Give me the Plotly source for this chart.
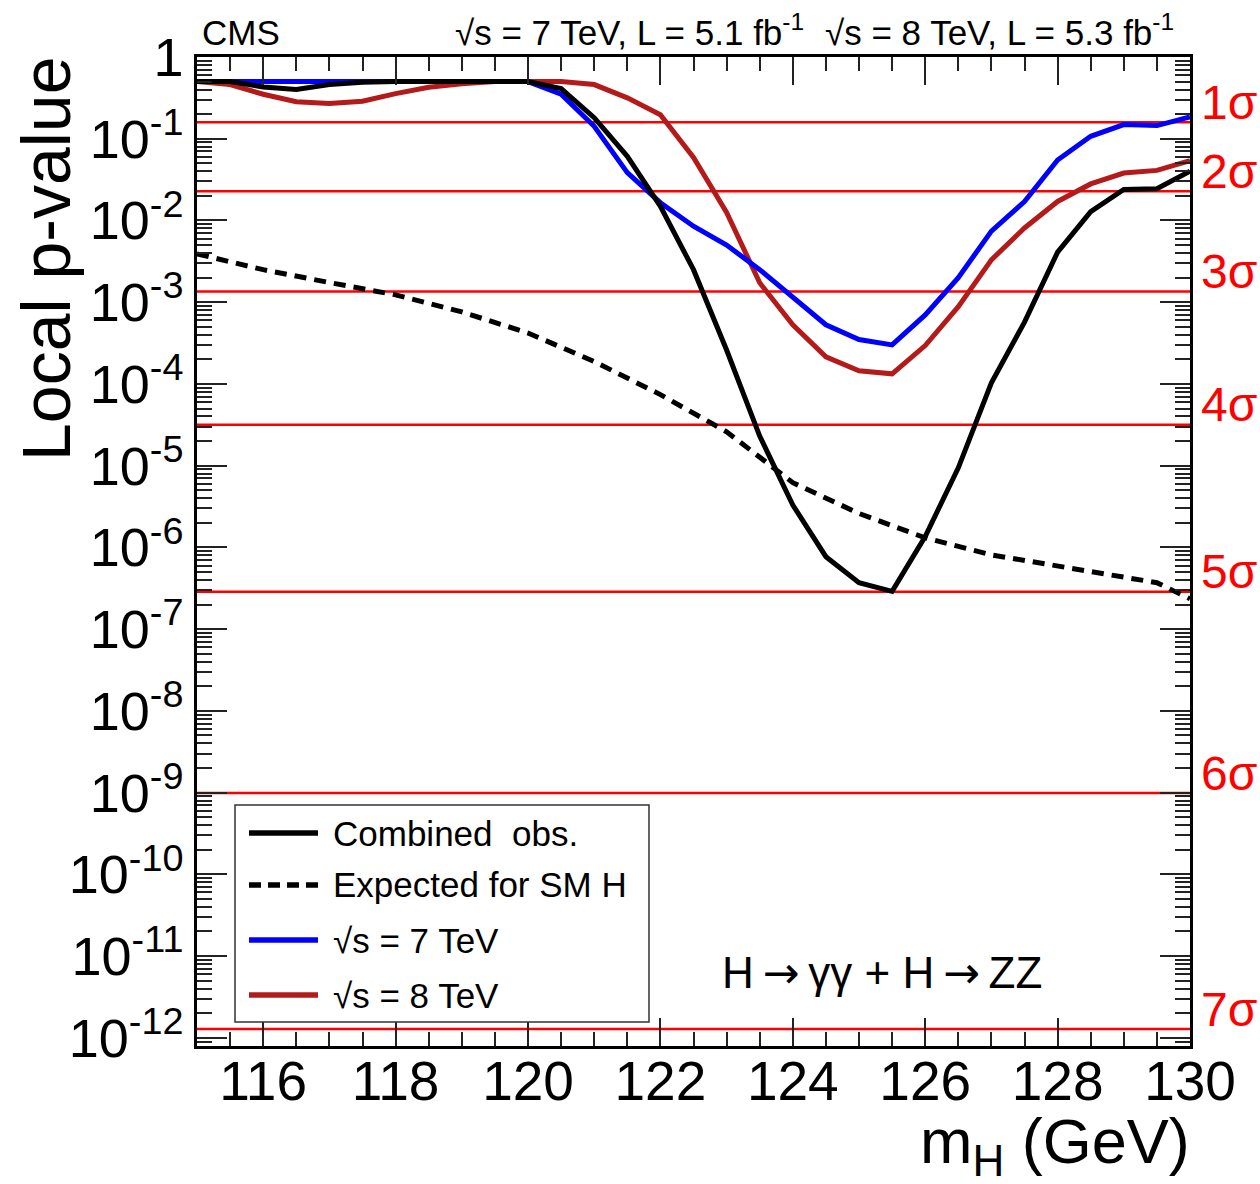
import numpy as np
import plotly.graph_objects as go

# ---------------- data ----------------
mass = [115.0, 115.5, 116.0, 116.5, 117.0, 117.5, 118.0, 118.5, 119.0, 119.5,
        120.0, 120.5, 121.0, 121.5, 122.0, 122.5, 123.0, 123.5, 124.0, 124.5,
        125.0, 125.5, 126.0, 126.5, 127.0, 127.5, 128.0, 128.5, 129.0, 129.5, 130.0]

p_combined = [0.5, 0.5, 0.43, 0.40, 0.46, 0.49, 0.5, 0.5, 0.5, 0.5,
              0.5, 0.41, 0.181, 0.061, 0.0149, 2.5e-3, 2.6e-4, 2.3e-5, 3.3e-6, 7.7e-7,
              3.7e-7, 2.9e-7, 1.36e-6, 9.4e-6, 1.03e-4, 5.7e-4, 4.1e-3, 0.0128, 0.024, 0.0245, 0.040]

p_7tev = [0.5, 0.5, 0.5, 0.5, 0.5, 0.5, 0.5, 0.5, 0.5, 0.5,
          0.5, 0.35, 0.142, 0.0385, 0.0165, 8.5e-3, 5.0e-3, 2.5e-3, 1.17e-3, 5.3e-4,
          3.5e-4, 3.0e-4, 7.0e-4, 2.0e-3, 7.4e-3, 0.017, 0.055, 0.107, 0.149, 0.145, 0.185]

p_8tev = [0.5, 0.46, 0.35, 0.284, 0.27, 0.287, 0.356, 0.426, 0.47, 0.5,
          0.5, 0.5, 0.46, 0.316, 0.197, 0.059, 0.0125, 1.73e-3, 5.3e-4, 2.15e-4,
          1.45e-4, 1.33e-4, 2.95e-4, 8.8e-4, 3.3e-3, 8.1e-3, 0.0171, 0.028, 0.038, 0.041, 0.054]

mass_exp = [115, 116, 117, 118, 119, 120, 121, 122, 123, 124, 125, 126, 127, 128, 129, 129.5, 130]
p_expected = [3.9e-3, 2.5e-3, 1.74e-3, 1.23e-3, 7.6e-4, 4.2e-4, 1.88e-4, 7.4e-5, 2.6e-5, 6.2e-6,
              2.6e-6, 1.31e-6, 8.1e-7, 6.0e-7, 4.4e-7, 3.7e-7, 2.35e-7]

sigma_p = [0.1587, 0.02275, 1.350e-3, 3.167e-5, 2.867e-7, 9.866e-10, 1.280e-12]
sigma_labels = ["1σ", "2σ", "3σ", "4σ", "5σ", "6σ", "7σ"]

x_tickvals = [116, 118, 120, 122, 124, 126, 128, 130]
x_ticktext = ["116", "118", "120", "122", "124", "126", "128", "130"]
y_exponents = list(range(0, -13, -1))
y_ticktext = ["1"] + ["10<sup>%d</sup>" % e for e in y_exponents[1:]]

legend_labels = ["Combined  obs.", "Expected for SM H", "√s = 7 TeV", "√s = 8 TeV"]

# ---------------- layout geometry ----------------
W, H = 1260, 1184
L, R, T, B = 197, 1190, 57, 1046


def px_x(px):
    return (px - L) / (R - L)


def px_y(py):
    return (B - py) / (B - T)


FONT = "Liberation Sans, Arial, Helvetica, sans-serif"
BLUE = "#0000FF"
DRED = "#B41A1A"
RED = "#FF0000"

fig = go.Figure()

# sigma lines
for p in sigma_p:
    fig.add_trace(go.Scatter(x=[mass[0], mass[-1]], y=[p, p], mode="lines",
                             line=dict(color=RED, width=2.5), showlegend=False,
                             hoverinfo="skip"))

fig.add_trace(go.Scatter(x=mass, y=p_8tev, mode="lines", name=legend_labels[3],
                         line=dict(color=DRED, width=5), showlegend=False))
fig.add_trace(go.Scatter(x=mass, y=p_7tev, mode="lines", name=legend_labels[2],
                         line=dict(color=BLUE, width=5), showlegend=False))
fig.add_trace(go.Scatter(x=mass_exp, y=p_expected, mode="lines", name=legend_labels[1],
                         line=dict(color="black", width=5, dash="12px,8px"), showlegend=False))
fig.add_trace(go.Scatter(x=mass, y=p_combined, mode="lines", name=legend_labels[0],
                         line=dict(color="black", width=5), showlegend=False))

# minor ticks
y_minor = []
for e in range(-13, 1):
    for k in range(2, 10):
        v = k * 10.0 ** e
        if 10 ** -12.1 <= v <= 1:
            y_minor.append(v)
x_minor = [115 + 0.5 * i for i in range(31)]

fig.update_xaxes(
    range=[115, 130], showgrid=False, zeroline=False,
    showline=True, linecolor="black", linewidth=2.5, mirror="allticks",
    ticks="inside", ticklen=28, tickwidth=1.5, tickcolor="#222",
    tickmode="array", tickvals=x_tickvals, ticktext=x_ticktext,
    tickfont=dict(family=FONT, size=55, color="black"),
    ticklabelstandoff=-15,
    minor=dict(tickmode="array", tickvals=x_minor, ticks="inside", ticklen=14,
               tickwidth=1.5, tickcolor="#222", showgrid=False),
    automargin=False,
)
fig.update_yaxes(
    type="log", range=[-12.1, 0], showgrid=False, zeroline=False,
    showline=True, linecolor="black", linewidth=2.5, mirror="allticks",
    ticks="inside", ticklen=30, tickwidth=1.5, tickcolor="#222",
    tickmode="array", tickvals=[10.0 ** e for e in y_exponents], ticktext=y_ticktext,
    tickfont=dict(family=FONT, size=54, color="black"),
    minor=dict(tickmode="array", tickvals=y_minor, ticks="inside", ticklen=15,
               tickwidth=1.5, tickcolor="#222", showgrid=False),
    automargin=False,
)

ann = []
# sigma labels
for p, lab in zip(sigma_p, sigma_labels):
    ann.append(dict(x=px_x(1199), xref="paper", y=np.log10(p), yref="y", text=lab,
                    showarrow=False, xanchor="left", yanchor="middle", yshift=20,
                    font=dict(family=FONT, size=48, color=RED)))

# header texts
ann.append(dict(x=px_x(200), y=px_y(32), xref="paper", yref="paper", text="CMS",
                showarrow=False, xanchor="left", yanchor="middle",
                font=dict(family=FONT, size=35, color="black")))
ann.append(dict(x=px_x(806), y=px_y(30), xref="paper", yref="paper",
                text="√s = 7 TeV, L = 5.1 fb<sup>-1</sup>",
                showarrow=False, xanchor="right", yanchor="middle",
                font=dict(family=FONT, size=35, color="black")))
ann.append(dict(x=px_x(1176), y=px_y(30), xref="paper", yref="paper",
                text="√s = 8 TeV, L = 5.3 fb<sup>-1</sup>",
                showarrow=False, xanchor="right", yanchor="middle",
                font=dict(family=FONT, size=35, color="black")))

# axis titles
ann.append(dict(x=px_x(1192), y=px_y(1145), xref="paper", yref="paper",
                text="m<sub>H</sub> (GeV)", showarrow=False, xanchor="right", yanchor="middle",
                font=dict(family=FONT, size=63, color="black")))
ann.append(dict(x=px_x(46), y=px_y(55), xref="paper", yref="paper",
                text="Local p-value", textangle=-90, showarrow=False,
                xanchor="center", yanchor="top",
                font=dict(family=FONT, size=68, color="black")))

# process label
ARROW = "<span style='font-family:DejaVu Sans'>\u2009\u2192\u2009</span>"
ann.append(dict(x=px_x(882), y=px_y(972), xref="paper", yref="paper",
                text="H" + ARROW + "γγ + H" + ARROW + "ZZ", showarrow=False,
                xanchor="center", yanchor="middle",
                font=dict(family=FONT, size=44, color="black")))

# manual legend
shapes = [dict(type="rect", xref="paper", yref="paper",
               x0=px_x(235), x1=px_x(649), y0=px_y(1022), y1=px_y(805),
               line=dict(color="#333", width=1.5), fillcolor="white", layer="above")]
leg_y = [833, 885, 940, 995]
leg_style = [dict(color="black", width=5.5, dash="solid"),
             dict(color="black", width=5.5, dash="12px,7px"),
             dict(color=BLUE, width=5.5, dash="solid"),
             dict(color=DRED, width=5.5, dash="solid")]
for yy, st, lab in zip(leg_y, leg_style, legend_labels):
    shapes.append(dict(type="line", xref="paper", yref="paper",
                       x0=px_x(249), x1=px_x(318), y0=px_y(yy), y1=px_y(yy),
                       line=st, layer="above"))
    ann.append(dict(x=px_x(331), y=px_y(yy), xref="paper", yref="paper", text=lab,
                    showarrow=False, xanchor="left", yanchor="middle",
                    font=dict(family=FONT, size=35, color="black")))

fig.update_layout(
    width=W, height=H, autosize=False,
    margin=dict(l=L, r=W - R, t=T, b=H - B, pad=0),
    paper_bgcolor="white", plot_bgcolor="white",
    showlegend=False,
    annotations=ann, shapes=shapes,
    font=dict(family=FONT, color="black"),
)

fig.write_html("out.html")
